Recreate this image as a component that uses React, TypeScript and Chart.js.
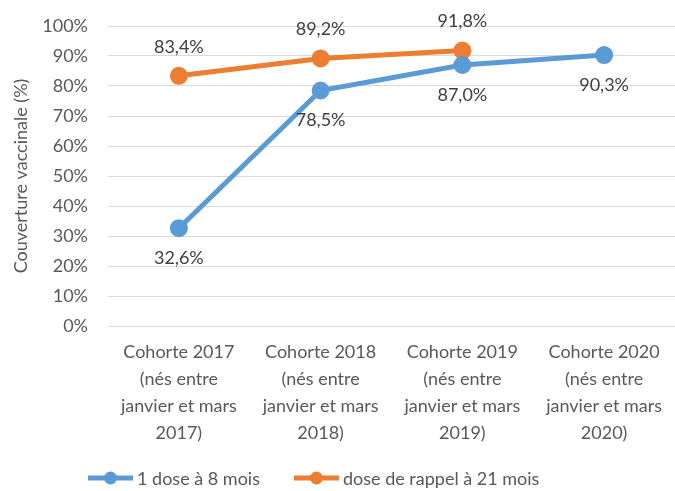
import React, { useEffect, useRef } from "react";
import { Chart, registerables } from "chart.js";

Chart.register(...registerables);

const categories: string[][] = [
  ["Cohorte 2017", "(nés entre", "janvier et mars", "2017)"],
  ["Cohorte 2018", "(nés entre", "janvier et mars", "2018)"],
  ["Cohorte 2019", "(nés entre", "janvier et mars", "2019)"],
  ["Cohorte 2020", "(nés entre", "janvier et mars", "2020)"],
];
const dose8Mois: (number | null)[] = [32.6, 78.5, 87.0, 90.3];
const rappel21Mois: (number | null)[] = [83.4, 89.2, 91.8, null];
const seriesNames = ["1 dose à 8 mois", "dose de rappel à 21 mois"];
const yTitle = "Couverture vaccinale (%)";
const yMin = 0;
const yMax = 100;
const yStep = 10;

const BLUE = "#5B9BD5";
const ORANGE = "#ED7D31";
const FONT = "Lato, 'Open Sans', sans-serif";
const TEXT = "#595959";
const FS = 18;

const fmt = (v: number) => v.toFixed(1).replace(".", ",") + "%";

const labelPlugin = {
  id: "valueLabels",
  afterDatasetsDraw(chart: any) {
    const ctx = chart.ctx;
    ctx.save();
    ctx.font = `${FS}px ${FONT}`;
    ctx.fillStyle = "#404040";
    ctx.textAlign = "center";
    ctx.textBaseline = "middle";
    chart.data.datasets.forEach((ds: any, di: number) => {
      const meta = chart.getDatasetMeta(di);
      const off = di === 0 ? 30 : -29;
      meta.data.forEach((pt: any, i: number) => {
        const v = ds.data[i];
        if (v == null) return;
        ctx.fillText(fmt(v), pt.x, pt.y + off);
      });
    });
    ctx.restore();
  },
};

const legendPlugin = {
  id: "customLegend",
  afterDraw(chart: any) {
    const ctx = chart.ctx;
    ctx.save();
    ctx.font = `${FS}px ${FONT}`;
    ctx.textBaseline = "middle";
    ctx.textAlign = "left";
    const lineW = 45;
    const gap = 4;
    const itemGap = 34;
    let x = 88;
    const y = 478;
    chart.data.datasets.forEach((ds: any) => {
      ctx.strokeStyle = ds.borderColor;
      ctx.lineWidth = 5;
      ctx.beginPath();
      ctx.moveTo(x, y);
      ctx.lineTo(x + lineW, y);
      ctx.stroke();
      ctx.fillStyle = ds.borderColor;
      ctx.beginPath();
      ctx.arc(x + lineW / 2, y, 6.5, 0, Math.PI * 2);
      ctx.fill();
      ctx.fillStyle = TEXT;
      ctx.fillText(ds.label, x + lineW + gap, y + 1);
      x += lineW + gap + ctx.measureText(ds.label).width + itemGap;
    });
    ctx.restore();
  },
};

export default function App() {
  const ref = useRef<HTMLCanvasElement | null>(null);
  useEffect(() => {
    document.body.style.margin = "0";
    if (!ref.current) return;
    const chart = new Chart(ref.current, {
      type: "line",
      data: {
        labels: categories as any,
        datasets: [
          {
            label: seriesNames[0],
            data: dose8Mois,
            borderColor: BLUE,
            backgroundColor: BLUE,
            borderWidth: 5,
            pointRadius: 6.5,
            pointHoverRadius: 6.5,
            pointBackgroundColor: BLUE,
            pointBorderColor: BLUE,
            tension: 0,
          },
          {
            label: seriesNames[1],
            data: rappel21Mois,
            borderColor: ORANGE,
            backgroundColor: ORANGE,
            borderWidth: 5,
            pointRadius: 6.5,
            pointHoverRadius: 6.5,
            pointBackgroundColor: ORANGE,
            pointBorderColor: ORANGE,
            tension: 0,
          },
        ],
      },
      options: {
        responsive: false,
        animation: false,
        layout: { autoPadding: false, padding: { top: 26, right: 0, left: 0, bottom: 0 } },
        plugins: {
          legend: { display: false },
          tooltip: { enabled: false },
          title: { display: false },
        },
        scales: {
          x: {
            grid: { display: false, drawTicks: false },
            border: { display: false },
            offset: true,
            ticks: {
              color: TEXT,
              font: { family: FONT, size: FS, lineHeight: 1.5 },
              padding: 13,
              maxRotation: 0,
              autoSkip: false,
            },
            afterFit(scale: any) {
              scale.height = 165;
              scale.paddingLeft = 0;
              scale.paddingRight = 0;
              scale.paddingTop = 0;
              scale.paddingBottom = 0;
            },
          },
          y: {
            min: yMin,
            max: yMax,
            grid: { color: "#D9D9D9", lineWidth: 1, drawTicks: false },
            border: { display: false },
            ticks: {
              stepSize: yStep,
              color: TEXT,
              font: { family: FONT, size: FS },
              padding: 20,
              callback: (v: any) => v + "%",
            },
            title: {
              display: true,
              text: yTitle,
              color: TEXT,
              font: { family: FONT, size: FS },
              padding: { top: 10, bottom: 0 },
            },
            afterFit(scale: any) {
              scale.width = 108;
              scale.paddingLeft = 0;
              scale.paddingRight = 0;
              scale.paddingTop = 0;
              scale.paddingBottom = 0;
            },
          },
        },
      },
      plugins: [labelPlugin, legendPlugin],
    });
    return () => chart.destroy();
  }, []);
  return (
    <div style={{ width: 675, height: 491, background: "#fff" }}>
      <canvas ref={ref} width={675} height={491} style={{ display: "block" }} />
    </div>
  );
}
